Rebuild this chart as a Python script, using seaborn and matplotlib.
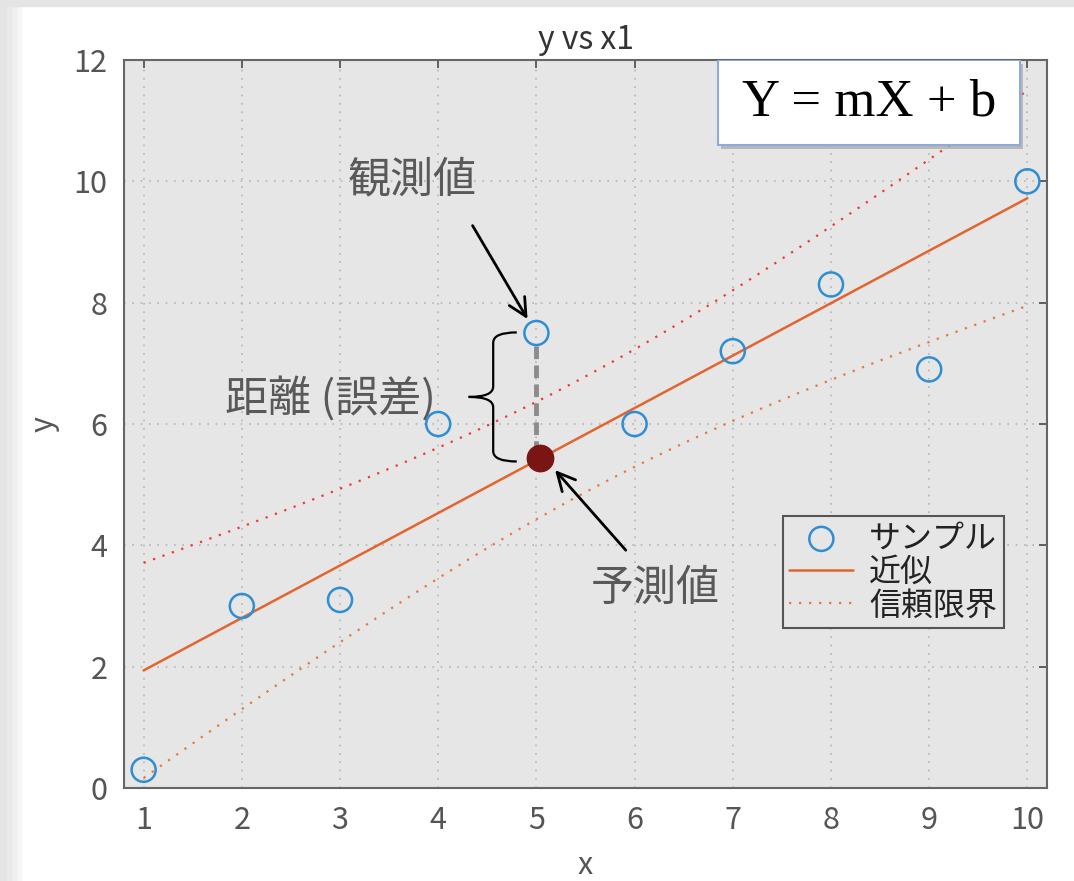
import numpy as np
import matplotlib
matplotlib.use("Agg")
import matplotlib.pyplot as plt
import matplotlib.patheffects as pe
from matplotlib.patches import Rectangle, PathPatch
from matplotlib.path import Path
import seaborn as sns

# sample data
x_sample = [1, 2, 3, 4, 5, 6, 7, 8, 9, 10]
y_sample = [0.3, 3.0, 3.1, 6.0, 7.5, 6.0, 7.2, 8.3, 6.9, 10.0]
x_ticks = [1, 2, 3, 4, 5, 6, 7, 8, 9, 10]
y_ticks = [0, 2, 4, 6, 8, 10, 12]
legend_labels = ["サンプル", "近似", "信頼限界"]
x_pred = 5.04   # x of the highlighted predicted point

sns.set_style("white")
plt.rcParams['font.family'] = ['Noto Sans CJK JP', 'DejaVu Sans']

# linear fit + 95% confidence bounds of the fitted line
xs = np.array(x_sample, dtype=float)
ys = np.array(y_sample, dtype=float)
m, b = np.polyfit(xs, ys, 1)
n = len(xs)
resid = ys - (m * xs + b)
s = np.sqrt(np.sum(resid ** 2) / (n - 2))
t_val = 2.306  # t(0.975, 8)
sxx = np.sum((xs - xs.mean()) ** 2)
xg = np.linspace(xs.min(), xs.max(), 60)
fit = m * xg + b
half = t_val * s * np.sqrt(1.0 / n + (xg - xs.mean()) ** 2 / sxx)

fig = plt.figure(figsize=(10.74, 8.81), dpi=100, facecolor="white")
ax = fig.add_axes([124 / 1074, 1 - 788 / 881, 923 / 1074, 728 / 881])
ax.set_facecolor("#e6e6e6")

# screenshot shadow along the left / top edge
for i, c in enumerate(["#f6f6f6", "#efefef", "#e9e9e9", "#e4e4e4"]):
    w = (21 - i * 5) / 1074
    fig.patches.append(Rectangle((0, 0), w, 1, transform=fig.transFigure,
                                 color=c, zorder=-10))
fig.patches.append(Rectangle((0, 1 - 6 / 881), 1, 6 / 881, transform=fig.transFigure,
                             color="#e4e4e4", zorder=-10))

blue = "#2f8ed3"
orange = "#e2652f"
red = "#f03838"

sns.lineplot(x=xg, y=fit + half, color=red, lw=1.6, linestyle=(0, (1, 3.5)), ax=ax, zorder=2)
sns.lineplot(x=xg, y=fit - half, color="#e8763f", lw=1.6, linestyle=(0, (1, 3.5)), ax=ax,
             zorder=2, label=legend_labels[2])
sns.lineplot(x=xg, y=fit, color=orange, lw=1.8, ax=ax, zorder=3, label=legend_labels[1])
sns.scatterplot(x=x_sample, y=y_sample, marker="o", s=300, facecolor="none",
                edgecolor=blue, linewidth=1.8, ax=ax, zorder=5, label=legend_labels[0])

# observed / predicted point at x = 5
y_obs = y_sample[4]
y_pred = m * x_pred + b
ax.plot([5, 5], [y_obs - 0.22, y_pred + 0.12], color="#8c8c8c", lw=3.5,
        linestyle=(0, (2.6, 1.3)), zorder=4, solid_capstyle="butt")
ax.plot([x_pred], [y_pred], "o", color="#7a1515", markersize=19, zorder=6)

# curly brace
bx, tip, end = 4.56, 4.31, 4.80
top, bot = y_obs + 0.01, y_pred - 0.05
mid = (top + bot) / 2
ry = 0.17
verts = [(end, top), (bx, top), (bx, top - ry), (bx, mid + ry), (bx, mid), (tip, mid),
         (bx, mid), (bx, mid - ry), (bx, bot + ry), (bx, bot), (end, bot)]
codes = [Path.MOVETO, Path.CURVE3, Path.CURVE3, Path.LINETO, Path.CURVE3, Path.CURVE3,
         Path.CURVE3, Path.CURVE3, Path.LINETO, Path.CURVE3, Path.CURVE3]
ax.add_patch(PathPatch(Path(verts, codes), fill=False, lw=1.6, color="black", zorder=4))

# annotations
txt_col = "#595959"
ax.text(3.74, 10.02, "観測値", fontsize=31, color=txt_col, ha="center", va="center")
ax.text(2.90, 6.39, "距離 (誤差)", fontsize=31, color=txt_col, ha="center", va="center")
ax.text(6.21, 3.29, "予測値", fontsize=31, color=txt_col, ha="center", va="center")
arrow = dict(arrowstyle="->", lw=2, color="black", mutation_scale=32, shrinkA=0, shrinkB=0)
ax.annotate("", xy=(4.91, 7.73), xytext=(4.35, 9.27), arrowprops=arrow, zorder=6)
ax.annotate("", xy=(5.19, 5.24), xytext=(5.91, 3.92), arrowprops=arrow, zorder=6)

# equation box
box = Rectangle((0.6436, 0.883), 0.327, 0.117, transform=ax.transAxes, facecolor="white",
                edgecolor="#8eaadb", lw=1.5, zorder=8)
box.set_path_effects([pe.withSimplePatchShadow(offset=(2, -3), shadow_rgbFace="#9a9a9a", alpha=0.6)])
ax.add_patch(box)
ax.text(0.807, 0.942, "Y = mX + b", transform=ax.transAxes, fontsize=38,
        family="Liberation Serif", color="black", ha="center", va="center", zorder=9)

# axes cosmetics
ax.set_xlim(0.8, 10.2)
ax.set_ylim(0, 12)
ax.set_xticks(x_ticks)
ax.set_yticks(y_ticks)
ax.grid(True, color="#b4b4b4", linestyle=(0, (1, 4)), lw=1.2)
ax.tick_params(direction="in", top=True, right=True, length=6, width=1.3,
               color="#555555", labelsize=22, labelcolor="#555555", pad=12)
for sp in ax.spines.values():
    sp.set_color("#666666")
    sp.set_linewidth(1.5)
ax.set_title("y vs x1", fontsize=23, color="#333333", pad=8)
ax.set_xlabel("x", fontsize=22, color="#555555", labelpad=10)
ax.set_ylabel("y", fontsize=22, color="#555555", labelpad=10)

handles, labels = ax.get_legend_handles_labels()
lookup = dict(zip(labels, handles))
leg = ax.legend([lookup[l] for l in legend_labels], legend_labels, loc="lower left",
                bbox_to_anchor=(0.714, 0.22), borderaxespad=0, fontsize=23, frameon=True,
                fancybox=False, facecolor="#e6e6e6", edgecolor="#555555", framealpha=1,
                handlelength=2.0, labelspacing=0.05, borderpad=0.2, handletextpad=0.5)
leg.get_frame().set_linewidth(1.5)
for t in leg.get_texts():
    t.set_color("#222222")

fig.savefig("out.png", dpi=100, facecolor=fig.get_facecolor())
